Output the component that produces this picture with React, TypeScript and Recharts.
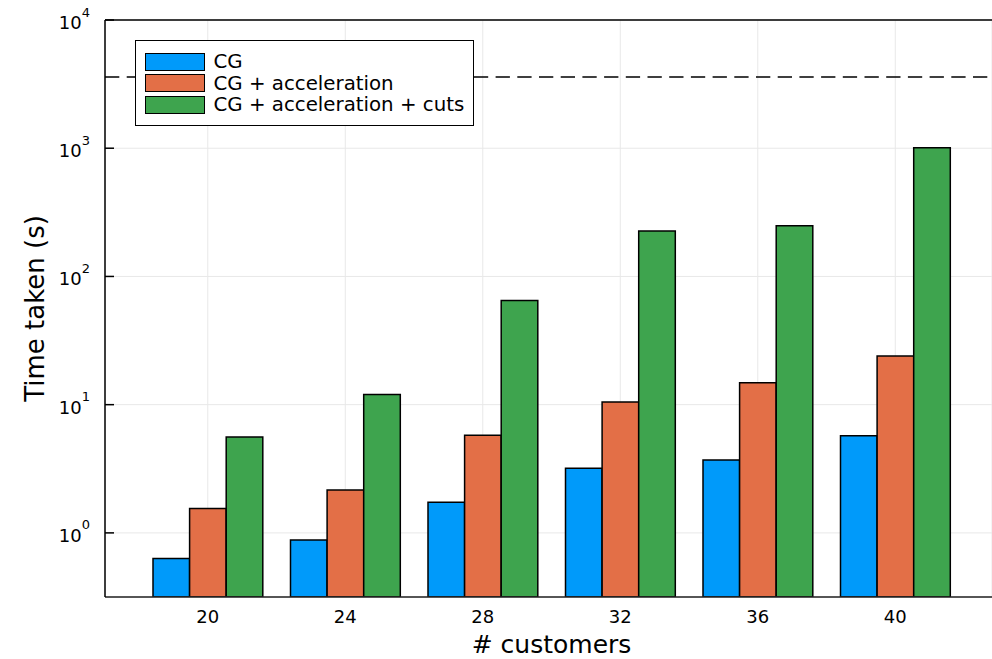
import {
  Bar,
  BarChart,
  CartesianGrid,
  Legend,
  ReferenceLine,
  XAxis,
  YAxis,
} from 'recharts'

const customers = ['20', '24', '28', '32', '36', '40']
const cgTimes = [0.63, 0.88, 1.73, 3.19, 3.7, 5.73]
const accelTimes = [1.55, 2.16, 5.77, 10.5, 14.8, 24.0]
const cutsTimes = [5.6, 12.0, 65, 226, 249, 1009]
const timeLimit = 3600
const yTicks = [1, 10, 100, 1000, 10000]
const seriesNames = ['CG', 'CG + acceleration', 'CG + acceleration + cuts']
const seriesColors = ['#009AFA', '#E36F47', '#3EA44E']

const FONT = '"DejaVu Sans", sans-serif'

const chartData = customers.map((n, i) => ({
  n,
  cg: cgTimes[i],
  accel: accelTimes[i],
  cuts: cutsTimes[i],
}))

// y tick as 10^k with a superscript exponent, plus a short inward tick mark
function PowerTick(props: any) {
  const { x, y, payload } = props
  const exp = Math.round(Math.log10(payload.value))
  return (
    <g>
      <line x1={x + 15} x2={x + 24} y1={y} y2={y} stroke="#000" strokeWidth={1.5} />
      <text x={x} y={y + 9} textAnchor="end" fontSize={18} fill="#000" fontFamily={FONT}>
        <tspan>10</tspan>
        <tspan dy={-12.5} fontSize={13}>
          {exp}
        </tspan>
      </text>
    </g>
  )
}

function LegendBox({ payload }: any) {
  return (
    <div
      style={{
        border: '1.5px solid #000',
        background: '#fff',
        padding: '9.75px 9px 9.75px 8.5px',
        fontFamily: FONT,
        fontSize: 19.8,
        color: '#000',
      }}
    >
      {(payload ?? []).map((entry: any) => (
        <div
          key={entry.value}
          style={{ display: 'flex', alignItems: 'center', height: 21.5, whiteSpace: 'nowrap' }}
        >
          <span
            style={{
              display: 'inline-block',
              boxSizing: 'border-box',
              width: 60,
              height: 18,
              background: entry.color,
              border: '1.5px solid #000',
              marginRight: 9,
            }}
          />
          <span>{entry.value}</span>
        </div>
      ))}
    </div>
  )
}

export default function App() {
  return (
    <div style={{ position: 'absolute', left: 0, top: 0, fontFamily: FONT }}>
      <BarChart
        width={992}
        height={659}
        data={chartData}
        margin={{ top: 20, right: 0, bottom: 0, left: 0 }}
        barGap={0}
        barSize={36.6}
      >
        <CartesianGrid stroke="#e8e8e8" strokeWidth={1} />
        <XAxis
          dataKey="n"
          height={62}
          padding={{ left: 34, right: 28 }}
          tickLine={false}
          tickSize={0}
          tickMargin={13.5}
          tick={{ fontSize: 18, fill: '#000', fontFamily: FONT }}
          axisLine={{ stroke: '#222', strokeWidth: 1.5 }}
          label={{
            content: ({ viewBox }: any) => (
              <text
                x={viewBox.x + viewBox.width / 2 + 3}
                y={viewBox.y + 56}
                textAnchor="middle"
                fontSize={25}
                fill="#000"
                fontFamily={FONT}
              >
                # customers
              </text>
            ),
          }}
        />
        <YAxis
          type="number"
          scale="log"
          domain={[0.3162, 10000]}
          allowDataOverflow
          ticks={yTicks}
          width={105}
          tickSize={0}
          tickMargin={15}
          tickLine={false}
          tick={<PowerTick />}
          axisLine={{ stroke: '#000', strokeWidth: 1.5 }}
          label={{
            content: ({ viewBox }: any) => {
              const cx = viewBox.x + 44
              const cy = viewBox.y + viewBox.height / 2
              return (
                <text
                  x={cx}
                  y={cy}
                  transform={`rotate(-90 ${cx} ${cy})`}
                  textAnchor="middle"
                  fontSize={26}
                  fill="#000"
                  fontFamily={FONT}
                >
                  Time taken (s)
                </text>
              )
            },
          }}
        />
        <ReferenceLine y={yTicks[yTicks.length - 1]} stroke="#000" strokeWidth={1.5} />
        <ReferenceLine y={timeLimit} stroke="#000" strokeWidth={1.5} strokeDasharray="14.3 7.4" />
        <Bar dataKey="cg" name={seriesNames[0]} fill={seriesColors[0]} stroke="#000" strokeWidth={1.5} isAnimationActive={false} />
        <Bar dataKey="accel" name={seriesNames[1]} fill={seriesColors[1]} stroke="#000" strokeWidth={1.5} isAnimationActive={false} />
        <Bar dataKey="cuts" name={seriesNames[2]} fill={seriesColors[2]} stroke="#000" strokeWidth={1.5} isAnimationActive={false} />
        <Legend
          layout="horizontal"
          verticalAlign="middle"
          align="center"
          content={<LegendBox />}
          wrapperStyle={{ top: 40, left: 135, width: 'auto', height: 'auto' }}
        />
      </BarChart>
    </div>
  )
}
